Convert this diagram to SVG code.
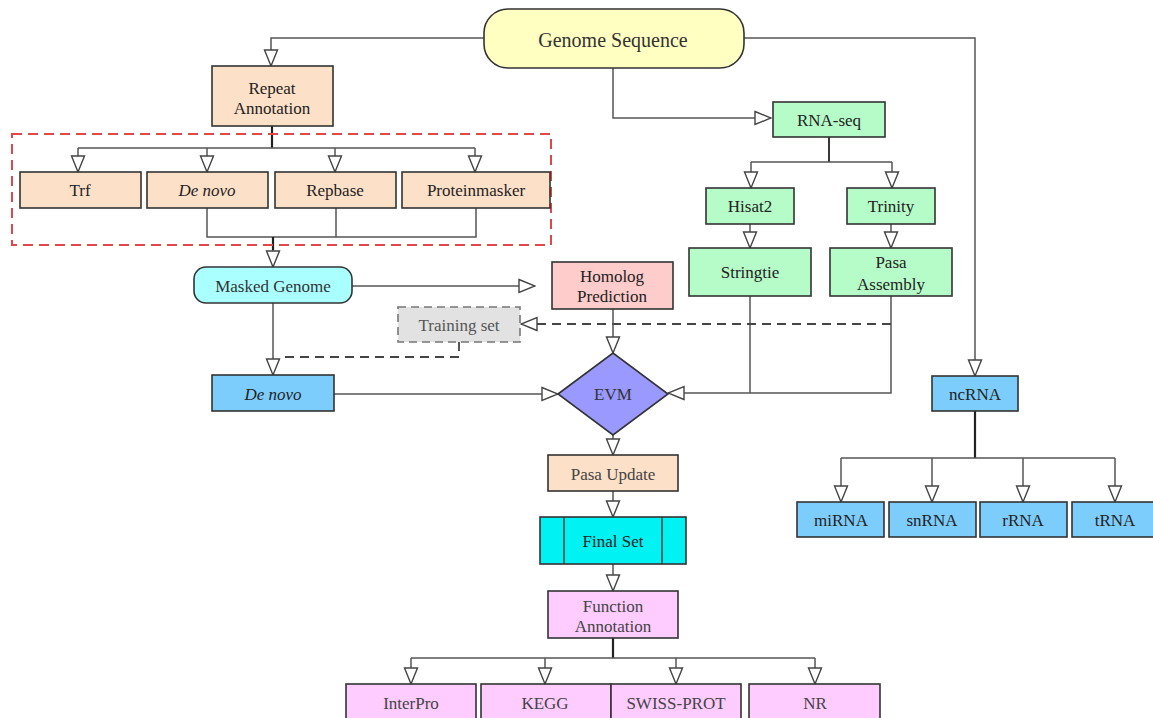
<svg xmlns="http://www.w3.org/2000/svg" width="1153" height="718" viewBox="0 0 1153 718">
<defs>
<marker id="arr" viewBox="0 0 18 16" refX="17" refY="8" markerWidth="18" markerHeight="16" markerUnits="userSpaceOnUse" orient="auto">
<path d="M1,1.5 L17,8 L1,14.5 z" fill="#fff" stroke="#444" stroke-width="1.4"/>
</marker>
<style>
.c{fill:none;stroke:#555;stroke-width:1.5}
.k{fill:none;stroke:#222;stroke-width:2.2}
.d{fill:none;stroke:#444;stroke-width:1.8;stroke-dasharray:9 6}
.b{stroke:#333;stroke-width:1.6}
.t{font-family:"Liberation Serif","DejaVu Serif",serif;font-size:17px;fill:#222;text-anchor:middle;dominant-baseline:central}
.peach{fill:#fde0c8}
.green{fill:#b6fcc8}
.blue{fill:#7dcdfc}
.pink{fill:#ffccff}
</style>
</defs>
<rect width="1153" height="718" fill="#fff"/>
<g id="connectors">
<path class="c" d="M484,38 H271 V66" marker-end="url(#arr)"/>
<path class="k" d="M272,126 V148"/>
<path class="c" d="M78,148 H475"/>
<path class="c" d="M78,148 V172" marker-end="url(#arr)"/>
<path class="c" d="M207,148 V172" marker-end="url(#arr)"/>
<path class="c" d="M335,148 V172" marker-end="url(#arr)"/>
<path class="c" d="M475,148 V172" marker-end="url(#arr)"/>
<path class="c" d="M207,208 V237 H476 V208"/>
<path class="c" d="M336,208 V237"/>
<path class="k" d="M273,237 V250"/>
<path class="c" d="M273,250 V267" marker-end="url(#arr)"/>
<path class="c" d="M613,68 V118 H771" marker-end="url(#arr)"/>
<path class="k" d="M829,137 V162" style="stroke-width:1.8"/>
<path class="c" d="M751,162 H892"/>
<path class="c" d="M751,162 V188" marker-end="url(#arr)"/>
<path class="c" d="M892,162 V188" marker-end="url(#arr)"/>
<path class="c" d="M750,224 V248" marker-end="url(#arr)"/>
<path class="c" d="M891,224 V248" marker-end="url(#arr)"/>
<path class="c" d="M750,296 V393"/>
<path class="c" d="M891,296 V393 H668" marker-end="url(#arr)"/>
<path class="d" d="M891,324 H521"/>
<path class="c" d="M537,324 H521" marker-end="url(#arr)"/>
<path class="d" d="M459,342 V357 H280"/>
<path class="c" d="M352,286 H535" marker-end="url(#arr)"/>
<path class="c" d="M273,303 V375" marker-end="url(#arr)"/>
<path class="c" d="M613,309 V353" marker-end="url(#arr)"/>
<path class="c" d="M334,394 H558" marker-end="url(#arr)"/>
<path class="c" d="M613,435 V455" marker-end="url(#arr)"/>
<path class="c" d="M613,491 V517" marker-end="url(#arr)"/>
<path class="c" d="M613,564 V591" marker-end="url(#arr)"/>
<path class="k" d="M613,638 V658"/>
<path class="c" d="M411,658 H815"/>
<path class="c" d="M411,658 V684" marker-end="url(#arr)"/>
<path class="c" d="M545,658 V684" marker-end="url(#arr)"/>
<path class="c" d="M676,658 V684" marker-end="url(#arr)"/>
<path class="c" d="M815,658 V684" marker-end="url(#arr)"/>
<path class="c" d="M744,38 H975 V376" marker-end="url(#arr)"/>
<path class="k" d="M975,411 V458"/>
<path class="c" d="M841,458 H1115"/>
<path class="c" d="M841,458 V502" marker-end="url(#arr)"/>
<path class="c" d="M932,458 V502" marker-end="url(#arr)"/>
<path class="c" d="M1023,458 V502" marker-end="url(#arr)"/>
<path class="c" d="M1115,458 V502" marker-end="url(#arr)"/>
</g>
<g id="repeat-group">
<rect x="12" y="134" width="539" height="111" fill="none" stroke="#e0474c" stroke-width="2" stroke-dasharray="10 6"/>
</g>
<g id="genome"><rect class="b" x="484" y="9" width="260" height="59" rx="24" fill="#ffffc2"/><text class="t" x="613" y="40" style="font-size:20px;fill:#333">Genome Sequence</text></g>
<g id="repeat"><rect class="b peach" x="212" y="66" width="121" height="60"/><text class="t" x="272" y="88">Repeat</text><text class="t" x="272" y="108">Annotation</text></g>
<g id="trf"><rect class="b peach" x="20" y="172" width="121" height="36"/><text class="t" x="80" y="190">Trf</text></g>
<g id="denovo1"><rect class="b peach" x="147" y="172" width="121" height="36"/><text class="t" x="207" y="190" font-style="italic">De novo</text></g>
<g id="repbase"><rect class="b peach" x="275" y="172" width="121" height="36"/><text class="t" x="335" y="190">Repbase</text></g>
<g id="proteinmasker"><rect class="b peach" x="402" y="172" width="148" height="36"/><text class="t" x="476" y="190">Proteinmasker</text></g>
<g id="masked"><rect class="b" x="194" y="267" width="158" height="36" rx="12" fill="#aaffff" stroke="#555"/><text class="t" x="273" y="286" style="fill:#333">Masked Genome</text></g>
<g id="homolog"><rect class="b" x="552" y="262" width="121" height="47" fill="#ffcccc"/><text class="t" x="612" y="276">Homolog</text><text class="t" x="612" y="296">Prediction</text></g>
<g id="training"><rect x="398" y="307" width="122" height="35" fill="#e2e2e2" stroke="#777" stroke-width="1.6" stroke-dasharray="8 5"/><text class="t" x="459" y="325" style="fill:#555">Training set</text></g>
<g id="denovo2"><rect class="b blue" x="212" y="375" width="122" height="36"/><text class="t" x="273" y="394" font-style="italic">De novo</text></g>
<g id="evm"><polygon class="b" points="558,394 613,353 668,394 613,435" fill="#9999ff"/><text class="t" x="613" y="394" style="fill:#333">EVM</text></g>
<g id="rnaseq"><rect class="b green" x="773" y="102" width="112" height="35" stroke="#666"/><text class="t" x="829" y="120">RNA-seq</text></g>
<g id="hisat2"><rect class="b green" x="706" y="188" width="88" height="36" stroke="#666"/><text class="t" x="750" y="206">Hisat2</text></g>
<g id="trinity"><rect class="b green" x="847" y="188" width="88" height="36" stroke="#666"/><text class="t" x="891" y="206">Trinity</text></g>
<g id="stringtie"><rect class="b green" x="689" y="248" width="122" height="48"/><text class="t" x="750" y="272">Stringtie</text></g>
<g id="pasaassembly"><rect class="b green" x="830" y="248" width="122" height="48"/><text class="t" x="891" y="262">Pasa</text><text class="t" x="891" y="284">Assembly</text></g>
<g id="ncrna"><rect class="b blue" x="932" y="376" width="86" height="35" stroke="#555"/><text class="t" x="975" y="394">ncRNA</text></g>
<g id="mirna"><rect class="b blue" x="797" y="502" width="87" height="35" stroke="#555"/><text class="t" x="841" y="520">miRNA</text></g>
<g id="snrna"><rect class="b blue" x="889" y="502" width="87" height="35" stroke="#555"/><text class="t" x="932" y="520">snRNA</text></g>
<g id="rrna"><rect class="b blue" x="980" y="502" width="87" height="35" stroke="#555"/><text class="t" x="1023" y="520">rRNA</text></g>
<g id="trna"><rect class="b blue" x="1072" y="502" width="90" height="35" stroke="#555"/><text class="t" x="1115" y="520">tRNA</text></g>
<g id="pasaupdate"><rect class="b peach" x="548" y="455" width="130" height="36" stroke="#555"/><text class="t" x="613" y="474" style="fill:#444">Pasa Update</text></g>
<g id="finalset"><rect class="b" x="540" y="517" width="146" height="47" fill="#00f2f2"/><line x1="564" y1="517" x2="564" y2="564" stroke="#333" stroke-width="1.4"/><line x1="662" y1="517" x2="662" y2="564" stroke="#333" stroke-width="1.4"/><text class="t" x="613" y="541">Final Set</text></g>
<g id="function"><rect class="b pink" x="548" y="591" width="130" height="47" stroke="#777"/><text class="t" x="613" y="606" style="fill:#444">Function</text><text class="t" x="613" y="626" style="fill:#444">Annotation</text></g>
<g id="interpro"><rect class="b pink" x="346" y="684" width="130" height="40" stroke="#777"/><text class="t" x="411" y="703" style="fill:#444">InterPro</text></g>
<g id="kegg"><rect class="b pink" x="481" y="684" width="130" height="40" stroke="#777"/><text class="t" x="545" y="703" style="fill:#444">KEGG</text></g>
<g id="swissprot"><rect class="b pink" x="611" y="684" width="130" height="40" stroke="#777"/><text class="t" x="676" y="703" style="fill:#444">SWISS-PROT</text></g>
<g id="nr"><rect class="b pink" x="749" y="684" width="131" height="40" stroke="#777"/><text class="t" x="815" y="703" style="fill:#444">NR</text></g>
</svg>
